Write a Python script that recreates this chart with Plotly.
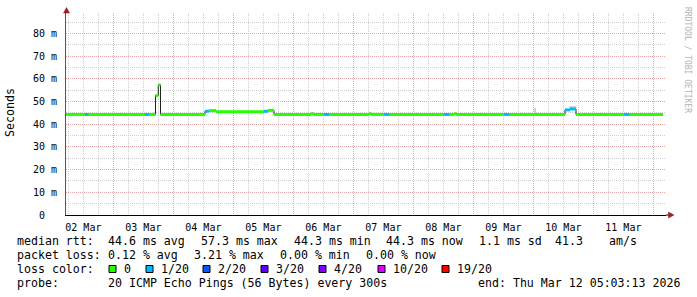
import plotly.graph_objects as go
import pandas as pd

# ---------------- data ----------------
t_start = "2026-03-02 05:03:13"
t_end = "2026-03-12 05:03:13"

# median RTT as a step function: value (ms) and loss bucket from seg_start[i] to seg_start[i+1]
seg_start = [
    "2026-03-02 05:03", "2026-03-02 12:39", "2026-03-02 13:51",
    "2026-03-03 12:39", "2026-03-03 14:15", "2026-03-03 16:51",
    "2026-03-03 17:58", "2026-03-03 18:51", "2026-03-04 12:39",
    "2026-03-04 14:15", "2026-03-04 17:03", "2026-03-05 12:15",
    "2026-03-05 13:51", "2026-03-05 16:15", "2026-03-06 07:03",
    "2026-03-06 08:15", "2026-03-06 12:15", "2026-03-06 14:15",
    "2026-03-07 06:15", "2026-03-07 07:15", "2026-03-07 12:15",
    "2026-03-07 14:15", "2026-03-08 12:15", "2026-03-08 14:15",
    "2026-03-08 16:15", "2026-03-08 17:15", "2026-03-09 12:15",
    "2026-03-09 14:15", "2026-03-10 12:39", "2026-03-10 14:39",
    "2026-03-10 17:03", "2026-03-11 12:15", "2026-03-11 14:15",
]
seg_value = [
    44.3, 44.3, 44.3,
    44.3, 44.3, 52.6,
    57.3, 44.3, 45.7,
    46.0, 45.5, 45.7,
    46.1, 44.3, 44.6,
    44.3, 44.3, 44.3,
    44.6, 44.3, 44.3,
    44.3, 44.3, 44.3,
    44.6, 44.3, 44.3,
    44.3, 46.3, 46.7,
    44.3, 44.3, 44.3,
]
seg_loss = [
    0, 1, 0,
    1, 0, 0,
    0, 0, 1,
    0, 0, 1,
    0, 0, 0,
    0, 1, 0,
    0, 0, 1,
    0, 1, 0,
    0, 0, 1,
    0, 1, 1,
    0, 1, 0,
]
line_end = "2026-03-12 03:50"

# smoke (spread of ping times)
smoke_start = ["2026-03-10 00:15", "2026-03-10 14:15"]
smoke_end = ["2026-03-10 01:03", "2026-03-10 17:03"]
smoke_lo = [44.9, 46.8]
smoke_hi = [47.1, 48.0]

loss_labels = ["0", "1/20", "2/20", "3/20", "4/20", "10/20", "19/20"]
loss_colors = ["#26ff00", "#00b8ff", "#0059ff", "#5e00ff", "#7e00ff", "#dd00ff", "#ff0000"]

y_tickvals = [0, 10, 20, 30, 40, 50, 60, 70, 80]
y_ticktext = ["0\u00a0\u00a0", "10 m", "20 m", "30 m", "40 m", "50 m", "60 m", "70 m", "80 m"]

rtt_values = [44.6, 57.3, 44.3, 44.3]
rtt_names = ["avg", "max", "min", "now"]
rtt_sd = 1.1
rtt_ams = 41.3
loss_values = [0.12, 3.21, 0.00, 0.00]
probe_text = "20 ICMP Echo Pings (56 Bytes) every 300s"
end_text = "end: Thu Mar 12 05:03:13 2026"

# ---------------- layout helpers ----------------
L, R, T, B = 66, 31, 13, 82
W, H = 697, 297
PW, PH = W - L - R, H - T - B


def px(x):
    return (x - L) / PW


def py(y):
    return (H - B - y) / PH


MONO = "DejaVu Sans Mono"
MAJOR = "#e6a6a6"
MINOR = "#cfcfcf"

fig = go.Figure()

# smoke
ss = pd.to_datetime(smoke_start)
se = pd.to_datetime(smoke_end)
fig.add_trace(go.Bar(
    x=ss + (se - ss) / 2,
    y=[h - l for h, l in zip(smoke_hi, smoke_lo)],
    base=smoke_lo,
    width=[(e - s).total_seconds() * 1000 for s, e in zip(ss, se)],
    marker=dict(color="#cfcfcf", line=dict(width=0)),
    hoverinfo="skip",
))

# black step line (connectors)
fig.add_trace(go.Scatter(
    x=seg_start + [line_end], y=seg_value + [seg_value[-1]],
    mode="lines", line=dict(color="#202020", width=1, shape="hv"),
    hoverinfo="skip",
))

# coloured segments per loss bucket
ends = seg_start[1:] + [line_end]
for k, col in enumerate(loss_colors):
    xs, ys = [], []
    for s, e, v, l in zip(seg_start, ends, seg_value, seg_loss):
        if l == k:
            xs += [s, e, None]
            ys += [v, v, None]
    if xs:
        fig.add_trace(go.Scatter(x=xs, y=ys, mode="lines",
                                 line=dict(color=col, width=3), hoverinfo="skip"))

fig.update_layout(
    width=W, height=H, margin=dict(l=L, r=R, t=T, b=B),
    paper_bgcolor="white", plot_bgcolor="white", showlegend=False,
    font=dict(family=MONO, size=11.6, color="black"),
    barmode="overlay",
)
fig.update_xaxes(
    type="date", range=[t_start, t_end],
    tick0="2026-03-02", dtick=86400000, ticklabelmode="period",
    tickformat="%d %b", tickfont=dict(family=MONO, size=10, color="black"),
    showgrid=True, gridcolor=MAJOR, griddash="1px,1px", gridwidth=1,
    minor=dict(dtick=21600000, showgrid=True, gridcolor=MINOR, griddash="1px,1px", gridwidth=1),
    showline=True, linecolor="black", linewidth=1, ticks="", ticklabelstandoff=3,
    zeroline=False,
)
fig.update_yaxes(
    range=[0, 89], tickvals=y_tickvals, ticktext=y_ticktext,
    tickfont=dict(family=MONO, size=10, color="black"),
    showgrid=True, gridcolor=MAJOR, griddash="1px,1px", gridwidth=1,
    minor=dict(dtick=5, showgrid=True, gridcolor=MINOR, griddash="1px,1px", gridwidth=1),
    showline=True, linecolor="#555555", linewidth=1, ticks="", ticklabelstandoff=6,
    zeroline=False,
)

ann = []


def text(t, x, y, anchor="left", size=11.6, color="black", angle=0):
    ann.append(dict(text=t, x=px(x), y=py(y), xref="paper", yref="paper",
                    xanchor=anchor, yanchor="middle", showarrow=False, borderpad=0,
                    textangle=angle, font=dict(family=MONO, size=size, color=color)))


# axis title and watermark
text("Seconds", 10, 113, anchor="center", size=11.6, angle=-90)
ann.append(dict(text="RRDTOOL / TOBI OETIKER", x=px(688), y=py(60), xref="paper", yref="paper",
                xanchor="center", yanchor="middle", showarrow=False, textangle=90,
                font=dict(family=MONO, size=8, color="#b4b4b4")))

# legend rows
r1, r2, r3, r4 = 241.5, 255.2, 268.9, 282.6
text("median rtt:", 16, r1)
for v, n, x in zip(rtt_values, rtt_names, [107, 200, 292.5, 385.3]):
    text(f"{v:.1f} ms {n}", x, r1)
text(f"{rtt_sd:.1f} ms sd", 478, r1)
text(f"{rtt_ams:.1f}", 554, r1)
text("am/s", 607.5, r1)

text("packet loss:", 16, r2)
for v, n, x in zip(loss_values, rtt_names, [107, 193.3, 279, 364.8]):
    text(f"{v:.2f} % {n}", x, r2)

text("loss color:", 16, r3)
sq_x = [109, 146, 203, 261, 319, 378, 442]
shapes = []
for lab, col, x in zip(loss_labels, loss_colors, sq_x):
    shapes.append(dict(type="rect", xref="paper", yref="paper",
                       x0=px(x), x1=px(x + 7), y0=py(272.5), y1=py(265.5),
                       fillcolor=col, line=dict(color="black", width=1)))
    text(lab, x + 14, r3)

text("probe:", 16, r4)
text(probe_text, 107, r4)
text(end_text, 680.5, r4, anchor="right")

# axis arrows
ARROW = "#9a1f1f"
shapes.append(dict(type="path", xref="paper", yref="paper",
                   path=f"M {px(63.5)},{py(13)} L {px(69.5)},{py(13)} L {px(66.5)},{py(7.5)} Z",
                   fillcolor=ARROW, line=dict(color=ARROW, width=0.5)))
shapes.append(dict(type="line", xref="paper", yref="paper",
                   x0=px(666), x1=px(669), y0=py(215), y1=py(215),
                   line=dict(color="black", width=1)))
shapes.append(dict(type="path", xref="paper", yref="paper",
                   path=f"M {px(668.5)},{py(212)} L {px(668.5)},{py(218)} L {px(674)},{py(215)} Z",
                   fillcolor=ARROW, line=dict(color=ARROW, width=0.5)))

fig.update_layout(annotations=ann, shapes=shapes)

fig.write_html("out.html")
